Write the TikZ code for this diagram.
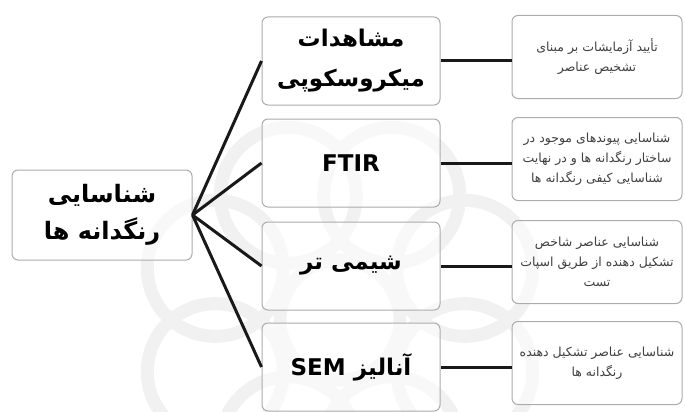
\documentclass[tikz,border=0pt]{standalone}
\usepackage{fontspec}
\setmainfont{DejaVu Sans}
\newfontfamily\arabicfont[Script=Arabic]{DejaVu Sans}
\TeXXeTstate=1

\tikzset{
  box/.style={draw=gray!65, line width=1pt, rounded corners=6pt, fill=white, fill opacity=0.55, text opacity=1},
  headbox/.style={box, minimum width=180pt, minimum height=90pt, align=center,
    font=\arabicfont\bfseries\fontsize{24}{37}\selectfont},
  methodbox/.style={box, minimum width=178pt, minimum height=88pt, align=center,
    font=\arabicfont\bfseries\fontsize{23}{40}\selectfont},
  notebox/.style={box, minimum width=170pt, minimum height=83pt, align=center,
    text=black!75, font=\arabicfont\fontsize{12.5}{20}\selectfont},
  link/.style={line width=3pt, black!90},
  mark line/.style={gray!11, line width=13pt}
}

\begin{document}
\begin{tikzpicture}[x=1pt, y=-1pt]
  \useasboundingbox (0,0) rectangle (685,412);

  % faint watermark
  \foreach \a in {22.5,67.5,...,337.5} {
    \draw[mark line] (340,320) ++(\a:135) circle (68);
  }
  \draw[mark line] (340,320) circle (60);

  % main box
  \node[headbox] (pigment) at (102,215) {\beginR شناسایی\endR\\ \beginR رنگدانه ها\endR};

  % methods
  \node[methodbox] (micro) at (351,61) {\beginR مشاهدات\endR\\ \beginR میکروسکوپی\endR};
  \node[methodbox] (ftir) at (351,163) {\setmainfont{DejaVu Sans}\bfseries FTIR};
  \node[methodbox] (wet) at (351,266) {\beginR شیمی تر\endR};
  \node[methodbox] (sem) at (351,367) {\beginR آنالیز \beginL SEM\endL\endR};

  % notes
  \node[notebox] (microNote) at (597,57) {\beginR تأیید آزمایشات بر مبنای\endR\\ \beginR تشخیص عناصر\endR};
  \node[notebox] (ftirNote) at (597,159) {\beginR شناسایی پیوندهای موجود در\endR\\ \beginR ساختار رنگدانه ها و در نهایت\endR\\ \beginR شناسایی کیفی رنگدانه ها\endR};
  \node[notebox] (wetNote) at (597,262) {\beginR شناسایی عناصر شاخص\endR\\ \beginR تشکیل دهنده از طریق اسپات\endR\\ \beginR تست\endR};
  \node[notebox] (semNote) at (597,363) {\beginR شناسایی عناصر تشکیل دهنده\endR\\ \beginR رنگدانه ها\endR};

  % connectors
  \foreach \m in {micro,ftir,wet,sem} {
    \draw[link] (pigment.east) -- (\m.west);
    \draw[link] (\m.east) -- (\m.east -| \m Note.west);
  }
\end{tikzpicture}
\end{document}
